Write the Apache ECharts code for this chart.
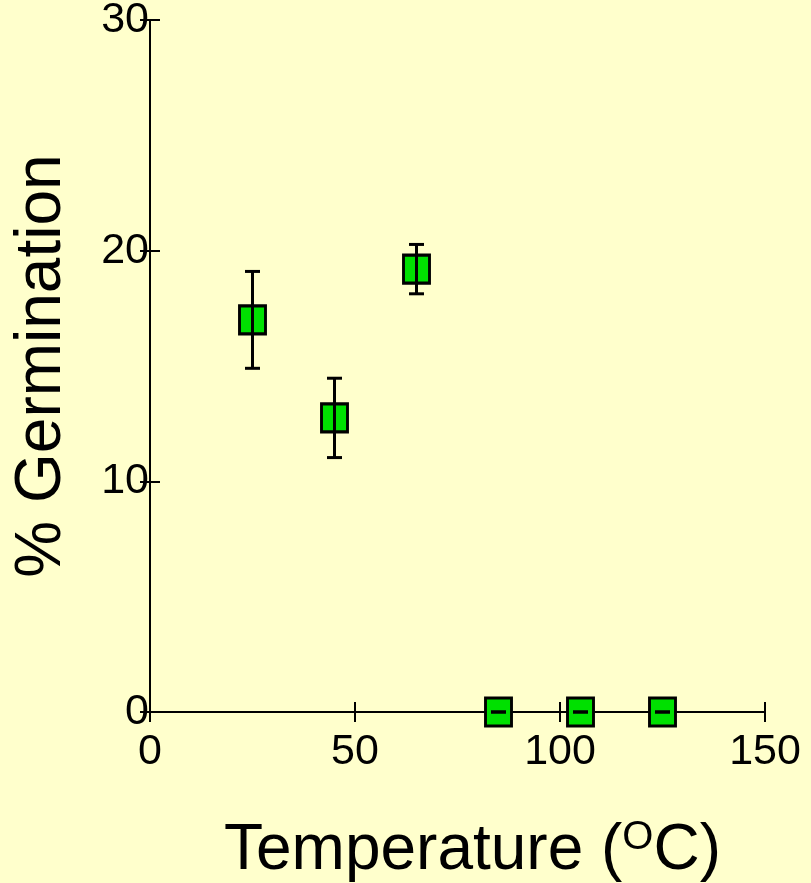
<!DOCTYPE html>
<html>
<head>
<meta charset="utf-8">
<script src="https://cdn.jsdelivr.net/npm/echarts@6/dist/echarts.min.js"></script>
<style>
html, body { margin: 0; padding: 0; background: #ffffcc; }
#chartBox { width: 811px; height: 883px; }
</style>
</head>
<body>
<div id="chartBox"></div>
<script>
// data
var temps = [25, 45, 65, 85, 105, 125];
var germination = [17, 12.75, 19.2, 0, 0, 0];
var errors = [2.1, 1.72, 1.07, 0, 0, 0];
var xTicks = [0, 50, 100, 150];
var yTicks = [0, 10, 20, 30];

window.addEventListener('load', function() {
	var myChart = echarts.init(document.getElementById('chartBox'));

	var points = [];
	var bars = [];
	for (var i = 0; i < temps.length; i++) {
		points.push([temps[i], germination[i]]);
		bars.push([temps[i], germination[i] - errors[i], germination[i] + errors[i]]);
	}

	var font = '"Liberation Sans", Arial, sans-serif';
	var tickStyle = { color: '#000', width: 2 };

	var option = {
		backgroundColor: '#ffffcc',
		animation: false,
		grid: { left: 150, right: 46, top: 20, bottom: 171, containLabel: false, outerBoundsMode: 'none' },
		xAxis: [{
			type: 'value',
			min: xTicks[0], max: xTicks[xTicks.length - 1], interval: 50,
			splitLine: { show: false },
			axisLine: { onZero: false, lineStyle: { color: '#000', width: 2 } },
			axisTick: { length: 10, lineStyle: tickStyle },
			axisLabel: { color: '#000', fontSize: 43, fontFamily: font, margin: 19 },
			name: '{a|Temperature (}{s|O}{a|C)}',
			nameLocation: 'middle',
			nameGap: 106,
			nameTextStyle: {
				padding: [0, 0, 0, 30],
				rich: {
					a: { fontSize: 64, fontFamily: font, color: '#000' },
					s: { fontSize: 40, fontFamily: font, color: '#000', verticalAlign: 'top', padding: [0, 0, 26, 0] }
				}
			}
		}, {
			type: 'value', position: 'bottom',
			min: xTicks[0], max: xTicks[xTicks.length - 1], interval: 50,
			splitLine: { show: false },
			axisLine: { show: false, onZero: false },
			axisTick: { inside: true, length: 10, lineStyle: tickStyle },
			axisLabel: { show: false }
		}],
		yAxis: [{
			type: 'value',
			min: yTicks[0], max: yTicks[yTicks.length - 1], interval: 10,
			splitLine: { show: false },
			axisLine: { onZero: false, lineStyle: { color: '#000', width: 2 } },
			axisTick: { length: 10, lineStyle: tickStyle },
			axisLabel: { color: '#000', fontSize: 43, fontFamily: font, margin: 1 },
			name: '% Germination',
			nameLocation: 'middle',
			nameGap: 76,
			nameTextStyle: { color: '#000', fontSize: 64, fontFamily: font }
		}, {
			type: 'value', position: 'left',
			min: yTicks[0], max: yTicks[yTicks.length - 1], interval: 10,
			splitLine: { show: false },
			axisLine: { show: false, onZero: false },
			axisTick: { inside: true, length: 10, lineStyle: tickStyle },
			axisLabel: { show: false }
		}],
		series: [{
			type: 'scatter',
			data: points,
			symbol: 'rect',
			symbolSize: [26, 28],
			itemStyle: { color: '#00e000', borderColor: '#000', borderWidth: 3, opacity: 1 },
			z: 2
		}, {
			type: 'custom',
			data: bars,
			z: 3,
			renderItem: function(params, api) {
				var x = api.value(0);
				var lo = api.coord([x, api.value(1)]);
				var hi = api.coord([x, api.value(2)]);
				var w = 7.5;
				var st = { stroke: '#000', lineWidth: 3 };
				return {
					type: 'group',
					children: [
						{ type: 'line', shape: { x1: hi[0], y1: hi[1], x2: lo[0], y2: lo[1] }, style: st },
						{ type: 'line', shape: { x1: hi[0] - w, y1: hi[1], x2: hi[0] + w, y2: hi[1] }, style: st },
						{ type: 'line', shape: { x1: lo[0] - w, y1: lo[1], x2: lo[0] + w, y2: lo[1] }, style: st }
					]
				};
			}
		}]
	};
	myChart.setOption(option);
});
</script>
</body>
</html>
